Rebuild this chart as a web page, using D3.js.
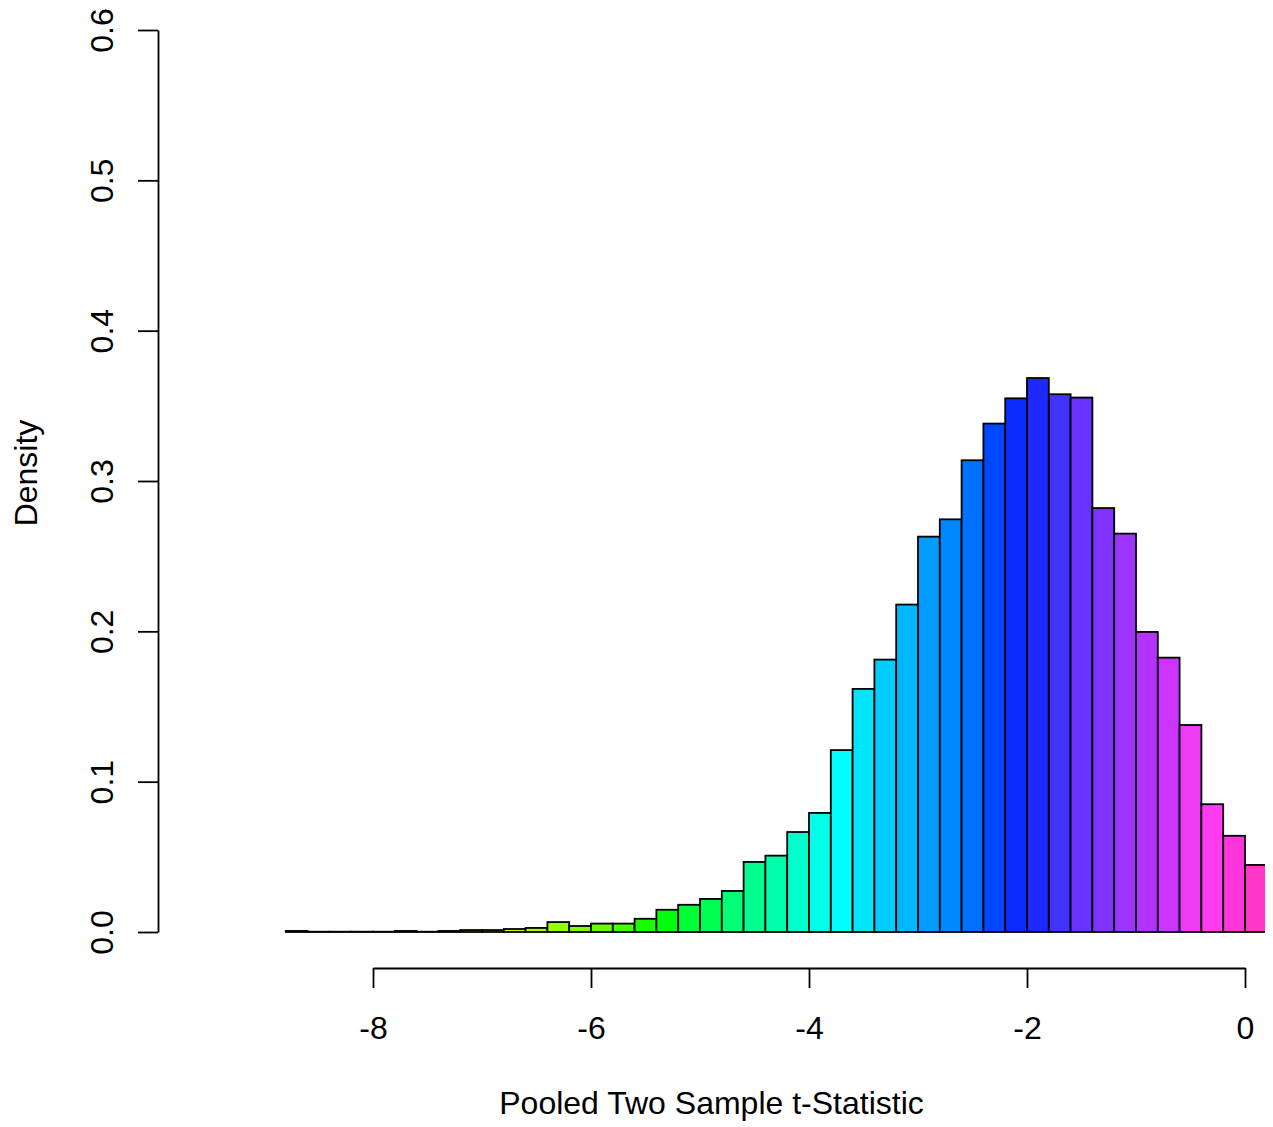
<!DOCTYPE html>
<html>
<head>
<meta charset="utf-8">
<script src="https://cdn.jsdelivr.net/npm/d3@7"></script>
<style>
  html, body { margin: 0; padding: 0; background: #ffffff; }
  svg { display: block; }
  text { font-family: "Liberation Sans", Arial, Helvetica, sans-serif; fill: #000; }
</style>
</head>
<body>
<script>
// ---- data ----
const binStarts = [-8.8, -8.6, -8.4, -8.2, -8.0, -7.8, -7.6, -7.4, -7.2, -7.0,
                   -6.8, -6.6, -6.4, -6.2, -6.0, -5.8, -5.6, -5.4, -5.2, -5.0,
                   -4.8, -4.6, -4.4, -4.2, -4.0, -3.8, -3.6, -3.4, -3.2, -3.0,
                   -2.8, -2.6, -2.4, -2.2, -2.0, -1.8, -1.6, -1.4, -1.2, -1.0,
                   -0.8, -0.6, -0.4, -0.2, 0.0];
const binWidth = 0.2;
const densities = [0.0007, 0.0002, 0.0002, 0.0002, 0.0002, 0.0007, 0.0002, 0.0007, 0.0013, 0.0013,
                   0.0020, 0.0027, 0.0066, 0.0040, 0.0056, 0.0056, 0.0088, 0.0148, 0.0181, 0.0220,
                   0.0273, 0.0466, 0.0508, 0.0665, 0.0792, 0.1210, 0.1617, 0.1812, 0.2178, 0.2630,
                   0.2745, 0.3138, 0.3382, 0.3550, 0.3685, 0.3577, 0.3555, 0.2820, 0.2650, 0.1996,
                   0.1825, 0.1377, 0.0850, 0.0640, 0.0446];
const barColors = ["#FF0000", "#FF2000", "#FF4000", "#FF6000", "#FF8000", "#FF9F00", "#FFBF00", "#FFDF00", "#FFFF00", "#DFFF00",
                   "#BFFF00", "#AAFF00", "#99FF00", "#80FF00", "#66FF00", "#44FF00", "#1AFF00", "#00FF0D", "#00FF33", "#00FF55",
                   "#00FF77", "#00FF90", "#00FFAA", "#00FFCC", "#00FFE8", "#00FFFF", "#00E6FF", "#00CCFF", "#00B8FF", "#009CFF",
                   "#0088FF", "#0070FF", "#0048FF", "#0A2CFF", "#1E28FF", "#4433FF", "#6633FF", "#8033FF", "#9F33FF", "#B333FF",
                   "#CC33FF", "#EE3CF5", "#FF3CF0", "#FF35DC", "#FF38C8"];
const xTicks = [-8, -6, -4, -2, 0];
const yTicks = [0.0, 0.1, 0.2, 0.3, 0.4, 0.5, 0.6];
const xLabel = "Pooled Two Sample t-Statistic";
const yLabel = "Density";

// ---- layout ----
const W = 1273, H = 1127;
const plot = { left: 158, right: 1265, top: 0, bottom: 968 };

const x = d3.scaleLinear().domain([-8, 0]).range([373, 1245]);
const y = d3.scaleLinear().domain([0, 0.6]).range([932, 30]);

const svg = d3.select("body").append("svg")
  .attr("width", W).attr("height", H);

svg.append("defs").append("clipPath").attr("id", "plotclip")
  .append("rect")
  .attr("x", plot.left).attr("y", plot.top)
  .attr("width", plot.right - plot.left).attr("height", plot.bottom - plot.top);

const bins = binStarts.map((s, i) => ({ lo: s, hi: s + binWidth, d: densities[i], c: barColors[i] }));

svg.append("g").attr("clip-path", "url(#plotclip)")
  .selectAll("rect").data(bins).enter().append("rect")
  .attr("x", d => x(d.lo))
  .attr("y", d => y(d.d))
  .attr("width", d => x(d.hi) - x(d.lo))
  .attr("height", d => y(0) - y(d.d))
  .attr("fill", d => d.c)
  .attr("stroke", "#000")
  .attr("stroke-width", 1.8);

// x axis
const xAxis = svg.append("g")
  .attr("transform", `translate(0,${plot.bottom})`)
  .call(d3.axisBottom(x).tickValues(xTicks).tickSize(20).tickPadding(28)
        .tickSizeOuter(0).tickFormat(d => String(d)));
xAxis.select(".domain").attr("stroke-width", 1.8);
xAxis.selectAll(".tick line").attr("stroke-width", 1.8);
xAxis.selectAll(".tick text")
  .style("font-size", "32px")
  .style("font-family", "'Liberation Sans', Arial, Helvetica, sans-serif")
  .attr("fill", "#000");

// y axis
const yAxis = svg.append("g")
  .attr("transform", `translate(${plot.left},0)`)
  .call(d3.axisLeft(y).tickValues(yTicks).tickSize(20).tickSizeOuter(0)
        .tickFormat(d3.format(".1f")));
yAxis.select(".domain").attr("stroke-width", 1.8);
yAxis.selectAll(".tick line").attr("stroke-width", 1.8);
yAxis.selectAll(".tick text")
  .attr("transform", "rotate(-90)")
  .attr("x", 0)
  .attr("y", -45)
  .attr("dy", null)
  .attr("text-anchor", "middle")
  .style("font-size", "32px")
  .style("font-family", "'Liberation Sans', Arial, Helvetica, sans-serif")
  .attr("fill", "#000");

// axis titles
svg.append("text")
  .attr("x", (plot.left + plot.right) / 2)
  .attr("y", 1114)
  .attr("text-anchor", "middle")
  .style("font-size", "32px")
  .text(xLabel);

svg.append("text")
  .attr("transform", `translate(37,473) rotate(-90)`)
  .attr("text-anchor", "middle")
  .style("font-size", "32px")
  .text(yLabel);
</script>
</body>
</html>
